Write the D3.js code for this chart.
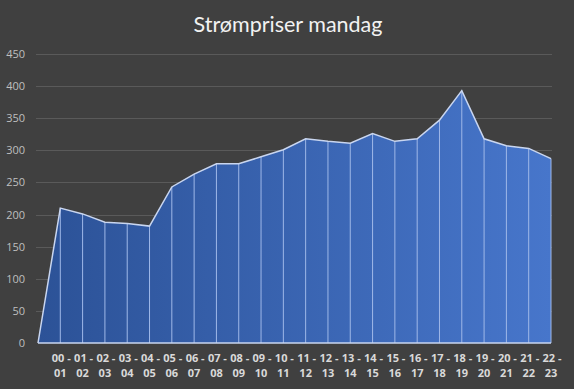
<!DOCTYPE html>
<html>
<head>
<meta charset="utf-8">
<script src="https://cdn.jsdelivr.net/npm/d3@7"></script>
<style>
  html, body { margin: 0; padding: 0; background: #404040; }
  svg { display: block; }
</style>
</head>
<body>
<div id="chart"></div>
<script>
// Chart data
var categories = ["", "00 - 01", "01 - 02", "02 - 03", "03 - 04", "04 - 05", "05 - 06",
	"06 - 07", "07 - 08", "08 - 09", "09 - 10", "10 - 11", "11 - 12", "12 - 13",
	"13 - 14", "14 - 15", "15 - 16", "16 - 17", "17 - 18", "18 - 19", "19 - 20",
	"20 - 21", "21 - 22", "22 - 23"];
var prices = [0, 210, 201, 188, 186, 182, 243, 263, 279, 279, 290, 301, 318, 314,
	311, 326, 314, 318, 347, 393, 318, 307, 303, 287];
var yTicks = [0, 50, 100, 150, 200, 250, 300, 350, 400, 450];
var title = "Strømpriser mandag";

var width = 574, height = 389;
var margin = {left: 38, right: 23, top: 54, bottom: 46};

var svg = d3.select("#chart").append("svg")
	.attr("width", width)
	.attr("height", height);

svg.append("rect")
	.attr("width", width)
	.attr("height", height)
	.attr("fill", "#404040");

var x = d3.scalePoint()
	.domain(d3.range(categories.length))
	.range([margin.left, width - margin.right]);

var y = d3.scaleLinear()
	.domain([0, 450])
	.range([height - margin.bottom, margin.top]);

// gradient for the area, darker on the left
var defs = svg.append("defs");
var grad = defs.append("linearGradient")
	.attr("id", "areaFill")
	.attr("x1", "0%").attr("x2", "100%")
	.attr("y1", "0%").attr("y2", "0%");
grad.append("stop").attr("offset", "0%").attr("stop-color", "#2c5297");
grad.append("stop").attr("offset", "100%").attr("stop-color", "#4776cb");

// gridlines
svg.append("g")
	.attr("id", "grid")
	.selectAll("line")
	.data(yTicks.filter(function(d){ return d > 0 }))
	.enter().append("line")
	.attr("x1", margin.left - 2)
	.attr("x2", width - margin.right + 1)
	.attr("y1", function(d){ return Math.round(y(d)) + 0.5 })
	.attr("y2", function(d){ return Math.round(y(d)) + 0.5 })
	.attr("stroke", "#5a5a5a")
	.attr("stroke-width", 1);

// y axis labels
var yAxis = d3.axisLeft(y)
	.tickValues(yTicks)
	.tickSize(0)
	.tickPadding(0);
var yg = svg.append("g")
	.attr("transform", "translate(25,0)")
	.call(yAxis);
yg.select(".domain").remove();
yg.selectAll("text")
	.attr("fill", "#bfbfbf")
	.style("font-family", "'Open Sans', sans-serif")
	.style("font-size", "11px");

// area
var area = d3.area()
	.x(function(d, i){ return x(i) })
	.y0(y(0))
	.y1(function(d){ return y(d) });

svg.append("path")
	.datum(prices)
	.attr("d", area)
	.attr("fill", "url(#areaFill)");

// drop lines at each point
svg.append("g")
	.attr("id", "droplines")
	.selectAll("line")
	.data(prices)
	.enter().append("line")
	.attr("x1", function(d, i){ return x(i) })
	.attr("x2", function(d, i){ return x(i) })
	.attr("y1", function(d){ return y(d) })
	.attr("y2", y(0))
	.attr("stroke", "#9fb8e8")
	.attr("stroke-width", 1);

// top outline
var line = d3.line()
	.x(function(d, i){ return x(i) })
	.y(function(d){ return y(d) });

svg.append("path")
	.datum(prices)
	.attr("d", line)
	.attr("fill", "none")
	.attr("stroke", "#c9d6f0")
	.attr("stroke-width", 1.5);

// x axis base line
svg.append("line")
	.attr("x1", margin.left)
	.attr("x2", width - margin.right)
	.attr("y1", y(0))
	.attr("y2", y(0))
	.attr("stroke", "#c9d6f0")
	.attr("stroke-width", 1.5);

// x labels, wrapped in two lines
var xg = svg.append("g").attr("id", "xlabels");
categories.forEach(function(c, i){
	if(!c) { return; }
	var parts = c.split(" - ");
	var t = xg.append("text")
		.attr("x", x(i))
		.attr("y", 362)
		.attr("text-anchor", "middle")
		.attr("fill", "#d9d9d9")
		.style("font-family", "'Open Sans', sans-serif")
		.style("font-size", "11px")
		.style("font-weight", "bold");
	t.append("tspan").attr("x", x(i)).attr("dx", 1).text(parts[0] + " -");
	t.append("tspan").attr("x", x(i)).attr("dy", 15).text(parts[1]);
});

// title
svg.append("text")
	.attr("x", 288)
	.attr("y", 32)
	.attr("text-anchor", "middle")
	.attr("fill", "#f2f2f2")
	.style("font-family", "Lato, sans-serif")
	.style("font-size", "21.5px")
	.text(title);
</script>
</body>
</html>
